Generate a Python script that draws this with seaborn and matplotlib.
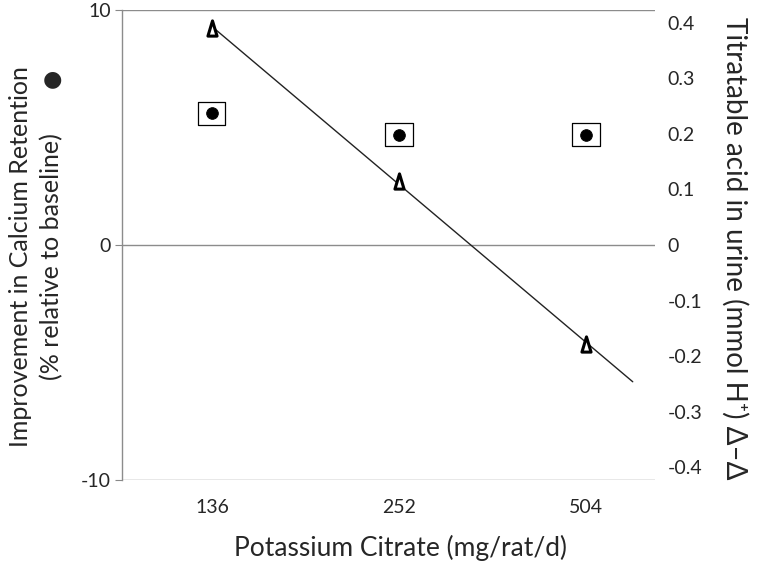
import numpy as np
import pandas as pd
import seaborn as sns
import matplotlib.pyplot as plt
from matplotlib.path import Path

# Data
doses = ["136", "252", "504"]
calcium_retention = [5.6, 4.7, 4.7]          # % relative to baseline (left axis)
titratable_acid = [0.39, 0.115, -0.178]      # mmol H+ (right axis)
trend_forward = 0.25                         # trendline extended past last dose

sns.set_style("white")
plt.rcParams['font.family'] = ['Lato', 'DejaVu Sans']
plt.rcParams['axes.unicode_minus'] = False

df = pd.DataFrame({
    "pos": np.arange(len(doses)),
    "dose": doses,
    "calcium": calcium_retention,
    "acid": titratable_acid,
})

fig = plt.figure(figsize=(7.61, 5.66), dpi=100)
ax = fig.add_axes([122 / 761, 1 - 480 / 566, 533 / 761, 470 / 566])

# Square frame around each calcium point, black dot inside
box = Path([(-0.6, -0.5), (0.6, -0.5), (0.6, 0.5), (-0.6, 0.5), (-0.6, -0.5)], closed=True)
ax.scatter(df["pos"], df["calcium"], marker=box, s=380,
           facecolor="none", edgecolor="black", linewidth=0.9, zorder=3)
sns.scatterplot(data=df, x="pos", y="calcium", ax=ax, marker="o", s=70,
                color="black", edgecolor="black", zorder=4)

ax.set_ylim(-10, 10)
ax.set_yticks([-10, 0, 10])
ax.set_xlim(-0.481, 2.369)
ax.set_xticks(df["pos"])
ax.set_xticklabels(doses, fontsize=14)
ax.tick_params(axis="x", length=0, pad=14)
ax.tick_params(axis="y", length=5, width=0.8, color="#888888", pad=3, labelsize=14)
for y in [-10, 0, 10]:
    ax.axhline(y, color="#8c8c8c", lw=1, zorder=1)
for s in ["top", "right", "bottom"]:
    ax.spines[s].set_visible(False)
ax.spines["left"].set_color("#8c8c8c")
ax.spines["left"].set_linewidth(1)
ax.set_xlabel("")
ax.set_ylabel("")
fig.text(400 / 761, 1 - 548 / 566, "Potassium Citrate (mg/rat/d)", fontsize=19,
         ha="center", va="center")
fig.text(21 / 761, 1 - 257 / 566, "Improvement in Calcium Retention", fontsize=18,
         rotation=90, ha="center", va="center")
fig.text(52 / 761, 1 - 257 / 566, "(% relative to baseline)", fontsize=18,
         rotation=90, ha="center", va="center")
fig.text(52 / 761, 1 - 79 / 566, "\u25CF", fontsize=16, ha="center", va="center",
         family="DejaVu Sans")

# Right axis: titratable acid with linear trendline
ax2 = ax.twinx()
tri = Path([(-0.3, -0.5), (0.3, -0.5), (0.0, 0.5), (-0.3, -0.5)], closed=True)
ax2.scatter(df["pos"], df["acid"], marker=tri, s=120,
            facecolor="white", edgecolor="black", linewidth=2.2, zorder=5)
slope, intercept = np.polyfit(df["pos"], df["acid"], 1)
xs = np.array([df["pos"].min(), df["pos"].max() + trend_forward])
ax2.plot(xs, intercept + slope * xs, color="#222222", lw=1, zorder=4)
ax2.set_ylim(-0.4227, 0.4227)
ax2.set_yticks(np.round(np.arange(-0.4, 0.41, 0.1), 1))
ax2.set_yticklabels(["-0.4", "-0.3", "-0.2", "-0.1", "0", "0.1", "0.2", "0.3", "0.4"])
ax2.tick_params(axis="y", length=0, pad=9, labelsize=14)
for s in ax2.spines.values():
    s.set_visible(False)
ax2.set_ylabel("")
fig.text(735 / 761, 1 - 248 / 566, "Titratable acid in urine (mmol H\u207A) \u0394\u2013\u0394",
         fontsize=20, rotation=270, ha="center", va="center")
ax.set_xlim(-0.481, 2.369)

fig.savefig("out.png", dpi=100)
